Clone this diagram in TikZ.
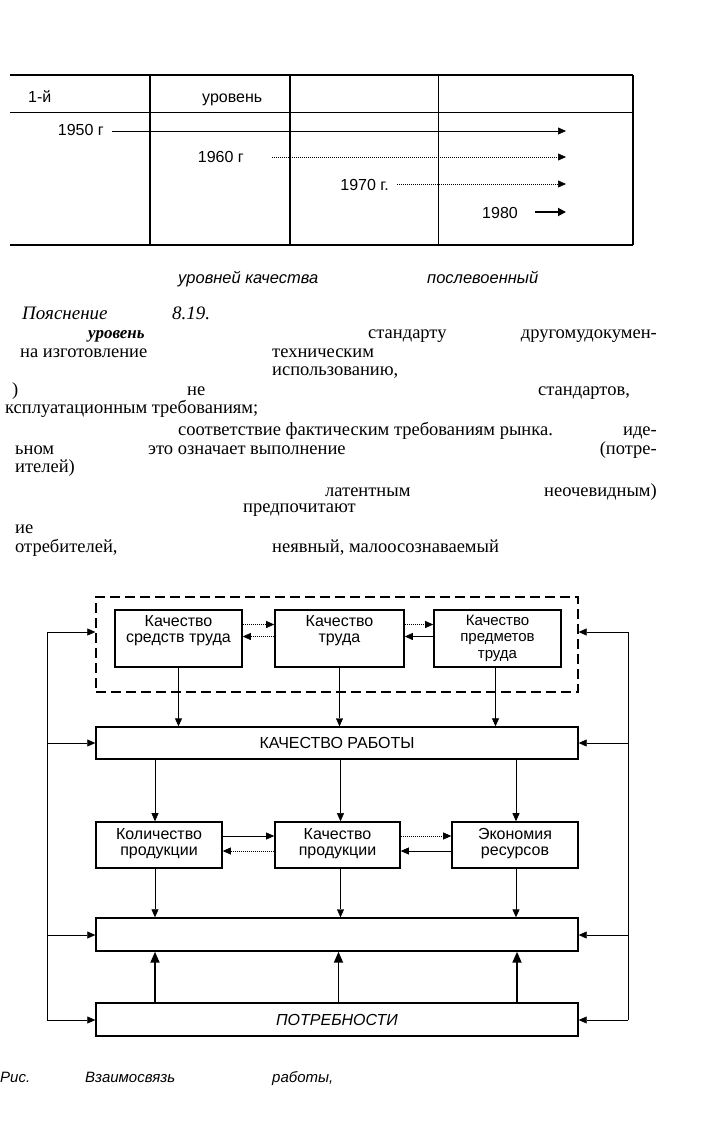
\documentclass[tikz,border=0pt]{standalone}
\usepackage{fontspec}
\setmainfont{Liberation Serif}
\setsansfont{Liberation Sans}
\usetikzlibrary{arrows.meta,calc}
\begin{document}
\begin{tikzpicture}[x=1pt,y=-1pt,
  sf/.style={font=\sffamily\fontsize{16}{16.5}\selectfont},
  tx/.style={font=\rmfamily\fontsize{18.5}{19}\selectfont,inner sep=0pt},
  capt/.style={font=\sffamily\itshape\fontsize{16.5}{18}\selectfont,inner sep=0pt,anchor=base west},
  box/.style={draw,line width=1.6pt,inner sep=0pt},
  wide/.style={draw,line width=1.4pt,minimum width=482,minimum height=33,inner sep=0pt,sf},
  arr/.style={-{Triangle[length=8pt,width=7pt]},line width=0.6pt},
  dotarr/.style={arr,dash pattern=on 1pt off 1pt},
  thickarr/.style={-{Triangle[length=11pt,width=9pt]},line width=1.8pt},
  tline/.style={line width=1.3pt},
]
\useasboundingbox (0,0) rectangle (704,1126);
% ---------- table ----------
\draw[tline] (10,75) -- (633,75);
\draw[line width=0.9pt] (10,112) -- (633,112);
\draw[tline] (10,245) -- (633,245);
\draw[tline] (150,75) -- (150,245);
\draw[tline] (290,75) -- (290,245);
\draw[line width=0.6pt] (438,75) -- (438,245);
\draw[tline] (633,75) -- (633,245);
\node[sf,anchor=base west,inner sep=0pt] (h1) at (28,103) {1-й};
\node[sf,anchor=base west,inner sep=0pt] (h2) at (202,103) {уровень};
\node[sf,anchor=base east,inner sep=0pt] (y50) at (104,136) {1950 г};
\node[sf,anchor=base east,inner sep=0pt] (y60) at (244,163) {1960 г};
\node[sf,anchor=base east,inner sep=0pt] (y70) at (389,190) {1970 г.};
\node[sf,anchor=base east,inner sep=0pt] (y80) at (518,218) {1980};
\coordinate (e50) at (566,131);
\coordinate (e60) at (566,157);
\coordinate (e70) at (566,184);
\coordinate (e80) at (566,212);
\draw[arr] ([xshift=8]y50.east |- e50) -- (e50);
\draw[dotarr] ([xshift=28]y60.east |- e60) -- (e60);
\draw[dotarr] ([xshift=8]y70.east |- e70) -- (e70);
\draw[-{Triangle[length=8pt,width=8pt]},line width=1.8pt] ([xshift=17]y80.east |- e80) -- (e80);
% ---------- captions / text ----------
\node[capt] (c1) at (178,283) {уровней качества};
\node[capt] (c2) at (427,283) {послевоенный};
\node[font=\rmfamily\itshape\fontsize{19}{20}\selectfont,anchor=base west,inner sep=0pt] (p1) at (22,319) {Пояснение};
\node[font=\rmfamily\itshape\fontsize{19}{20}\selectfont,anchor=base west,inner sep=0pt] (p2) at (172,319) {8.19.};
\node[tx,anchor=base west,font=\rmfamily\itshape\bfseries\fontsize{17}{18}\selectfont] (t1a) at (88,338) {уровень};
\node[tx,anchor=base west] (t1b) at (368,338) {стандарту};
\node[tx,anchor=base east] (t1c) at (657,338) {другомудокумен-};
\node[tx,anchor=base west] (t2a) at (20,357) {на изготовление};
\node[tx,anchor=base west] (t2b) at (272,357) {техническим};
\node[tx,anchor=base west] (t3a) at (272,375) {использованию,};
\node[tx,anchor=base west] (t4a) at (12,395) {)};
\node[tx,anchor=base west] (t4b) at (187,395) {не};
\node[tx,anchor=base west] (t4c) at (538,395) {стандартов,};
\node[tx,anchor=base west] (t5a) at (5,413) {ксплуатационным требованиям;};
\node[tx,anchor=base west] (t6a) at (178,435) {соответствие фактическим требованиям рынка.};
\node[tx,anchor=base east] (t6b) at (657,435) {иде-};
\node[tx,anchor=base west] (t7a) at (15,454) {ьном};
\node[tx,anchor=base west] (t7b) at (148,454) {это означает выполнение};
\node[tx,anchor=base east] (t7c) at (657,454) {(потре-};
\node[tx,anchor=base west] (t8a) at (15,472) {ителей)};
\node[tx,anchor=base west] (t9a) at (325,496) {латентным};
\node[tx,anchor=base east] (t9b) at (657,496) {неочевидным)};
\node[tx,anchor=base west] (t10a) at (243,512) {предпочитают};
\node[tx,anchor=base west] (t11a) at (15,533) {ие};
\node[tx,anchor=base west] (t12a) at (15,552) {отребителей,};
\node[tx,anchor=base west] (t12b) at (272,552) {неявный, малоосознаваемый};
% ---------- diagram ----------
\node[draw,dash pattern=on 10pt off 5pt,line width=1.3pt,minimum width=482,minimum height=95,inner sep=0pt] (grp) at (337,644.5) {};
\node[box,minimum width=127,minimum height=57] (b1) at (178.5,638.5) {};
\node[box,minimum width=129,minimum height=57] (b2) at (339.5,638.5) {};
\node[box,minimum width=127,minimum height=57] (b3) at (497.5,638.5) {};
\node[sf,align=center] (b1t) at (b1) [yshift=8] {Качество\\средств труда};
\node[sf,align=center] (b2t) at (b2) [yshift=8] {Качество\\труда};
\node[sf,align=center,font=\sffamily\fontsize{15}{16.5}\selectfont] (b3t) at (b3) [yshift=0.5] {Качество\\предметов\\труда};
\node[wide,minimum height=32] (kr) at (337,743) {КАЧЕСТВО РАБОТЫ};
\node[box,minimum width=126,minimum height=46] (a1) at (159,845) {};
\node[box,minimum width=125,minimum height=46] (a2) at (337.5,845) {};
\node[box,minimum width=126,minimum height=46] (a3) at (515,845) {};
\node[sf,align=center] (a1t) at (a1) [yshift=1.5] {Количество\\продукции};
\node[sf,align=center] (a2t) at (a2) [yshift=1.5] {Качество\\продукции};
\node[sf,align=center] (a3t) at (a3) [yshift=1.5] {Экономия\\ресурсов};
\node[wide] (blank) at (337,934.5) {};
\node[wide,font=\sffamily\itshape\fontsize{16}{17}\selectfont] (need) at (337,1019.5) {ПОТРЕБНОСТИ};
% horizontal arrows between boxes
\draw[dotarr] ([yshift=14]b1.east) -- ([yshift=14]b2.west);
\draw[dotarr] ([yshift=2]b2.west) -- ([yshift=2]b1.east);
\draw[dotarr] ([yshift=14]b2.east) -- ([yshift=14]b3.west);
\draw[arr] ([yshift=2]b3.west) -- ([yshift=2]b2.east);
\draw[arr] ([yshift=9]a1.east) -- ([yshift=9]a2.west);
\draw[dotarr] ([yshift=-6]a2.west) -- ([yshift=-6]a1.east);
\draw[dotarr] ([yshift=9]a2.east) -- ([yshift=9]a3.west);
\draw[arr] ([yshift=-6]a3.west) -- ([yshift=-6]a2.east);
% vertical arrows
\draw[arr,line width=1pt] (b1.south) -- (b1.south |- kr.north);
\draw[arr,line width=0.4pt] (b2.south) -- (b2.south |- kr.north);
\draw[arr,line width=0.8pt] ([xshift=-2]b3.south) -- ([xshift=-2]b3.south |- kr.north);
\draw[arr] ([xshift=-4]kr.south -| a1.north) -- ([xshift=-4]a1.north);
\draw[arr,line width=0.4pt] ([xshift=3]kr.south -| a2.north) -- ([xshift=3]a2.north);
\draw[arr,line width=0.8pt] ([xshift=1]kr.south -| a3.north) -- ([xshift=1]a3.north);
\draw[arr] ([xshift=-4]a1.south) -- ([xshift=-4]a1.south |- blank.north);
\draw[arr,line width=0.4pt] ([xshift=3]a2.south) -- ([xshift=3]a2.south |- blank.north);
\draw[arr,line width=1pt] ([xshift=1]a3.south) -- ([xshift=1]a3.south |- blank.north);
\draw[thickarr] ([xshift=-4]need.north -| a1.south) -- ([xshift=-4]blank.south -| a1.south);
\draw[thickarr] ([xshift=1]need.north -| a2.south) -- ([xshift=1]blank.south -| a2.south);
\draw[thickarr] ([xshift=2]need.north -| a3.south) -- ([xshift=2]blank.south -| a3.south);
% feedback lines
\coordinate (L1) at (47,632); \coordinate (L2) at (47,743);
\coordinate (L3) at (47,935); \coordinate (L4) at (47,1020);
\coordinate (R1) at (628,632); \coordinate (R2) at (628,743);
\coordinate (R3) at (628,935); \coordinate (R4) at (628,1020);
\draw[line width=0.8pt] (L1) -- (L4);
\draw[line width=0.8pt] (R1) -- (R4);
\draw[arr] (L1) -- (L1 -| grp.west);
\draw[arr] (L2) -- (L2 -| kr.west);
\draw[arr] (L3) -- (L3 -| blank.west);
\draw[arr] (L4) -- (L4 -| need.west);
\draw[arr] (R1) -- (R1 -| grp.east);
\draw[arr] (R2) -- (R2 -| kr.east);
\draw[arr] (R3) -- (R3 -| blank.east);
\draw[arr] (R4) -- (R4 -| need.east);
% bottom caption
\node[capt,font=\sffamily\itshape\fontsize{15}{16}\selectfont] (f1) at (0,1082) {Рис.};
\node[capt,font=\sffamily\itshape\fontsize{15}{16}\selectfont] (f2) at (85,1082) {Взаимосвязь};
\node[capt,font=\sffamily\itshape\fontsize{15}{16}\selectfont] (f3) at (272,1082) {работы,};
\end{tikzpicture}
\end{document}
